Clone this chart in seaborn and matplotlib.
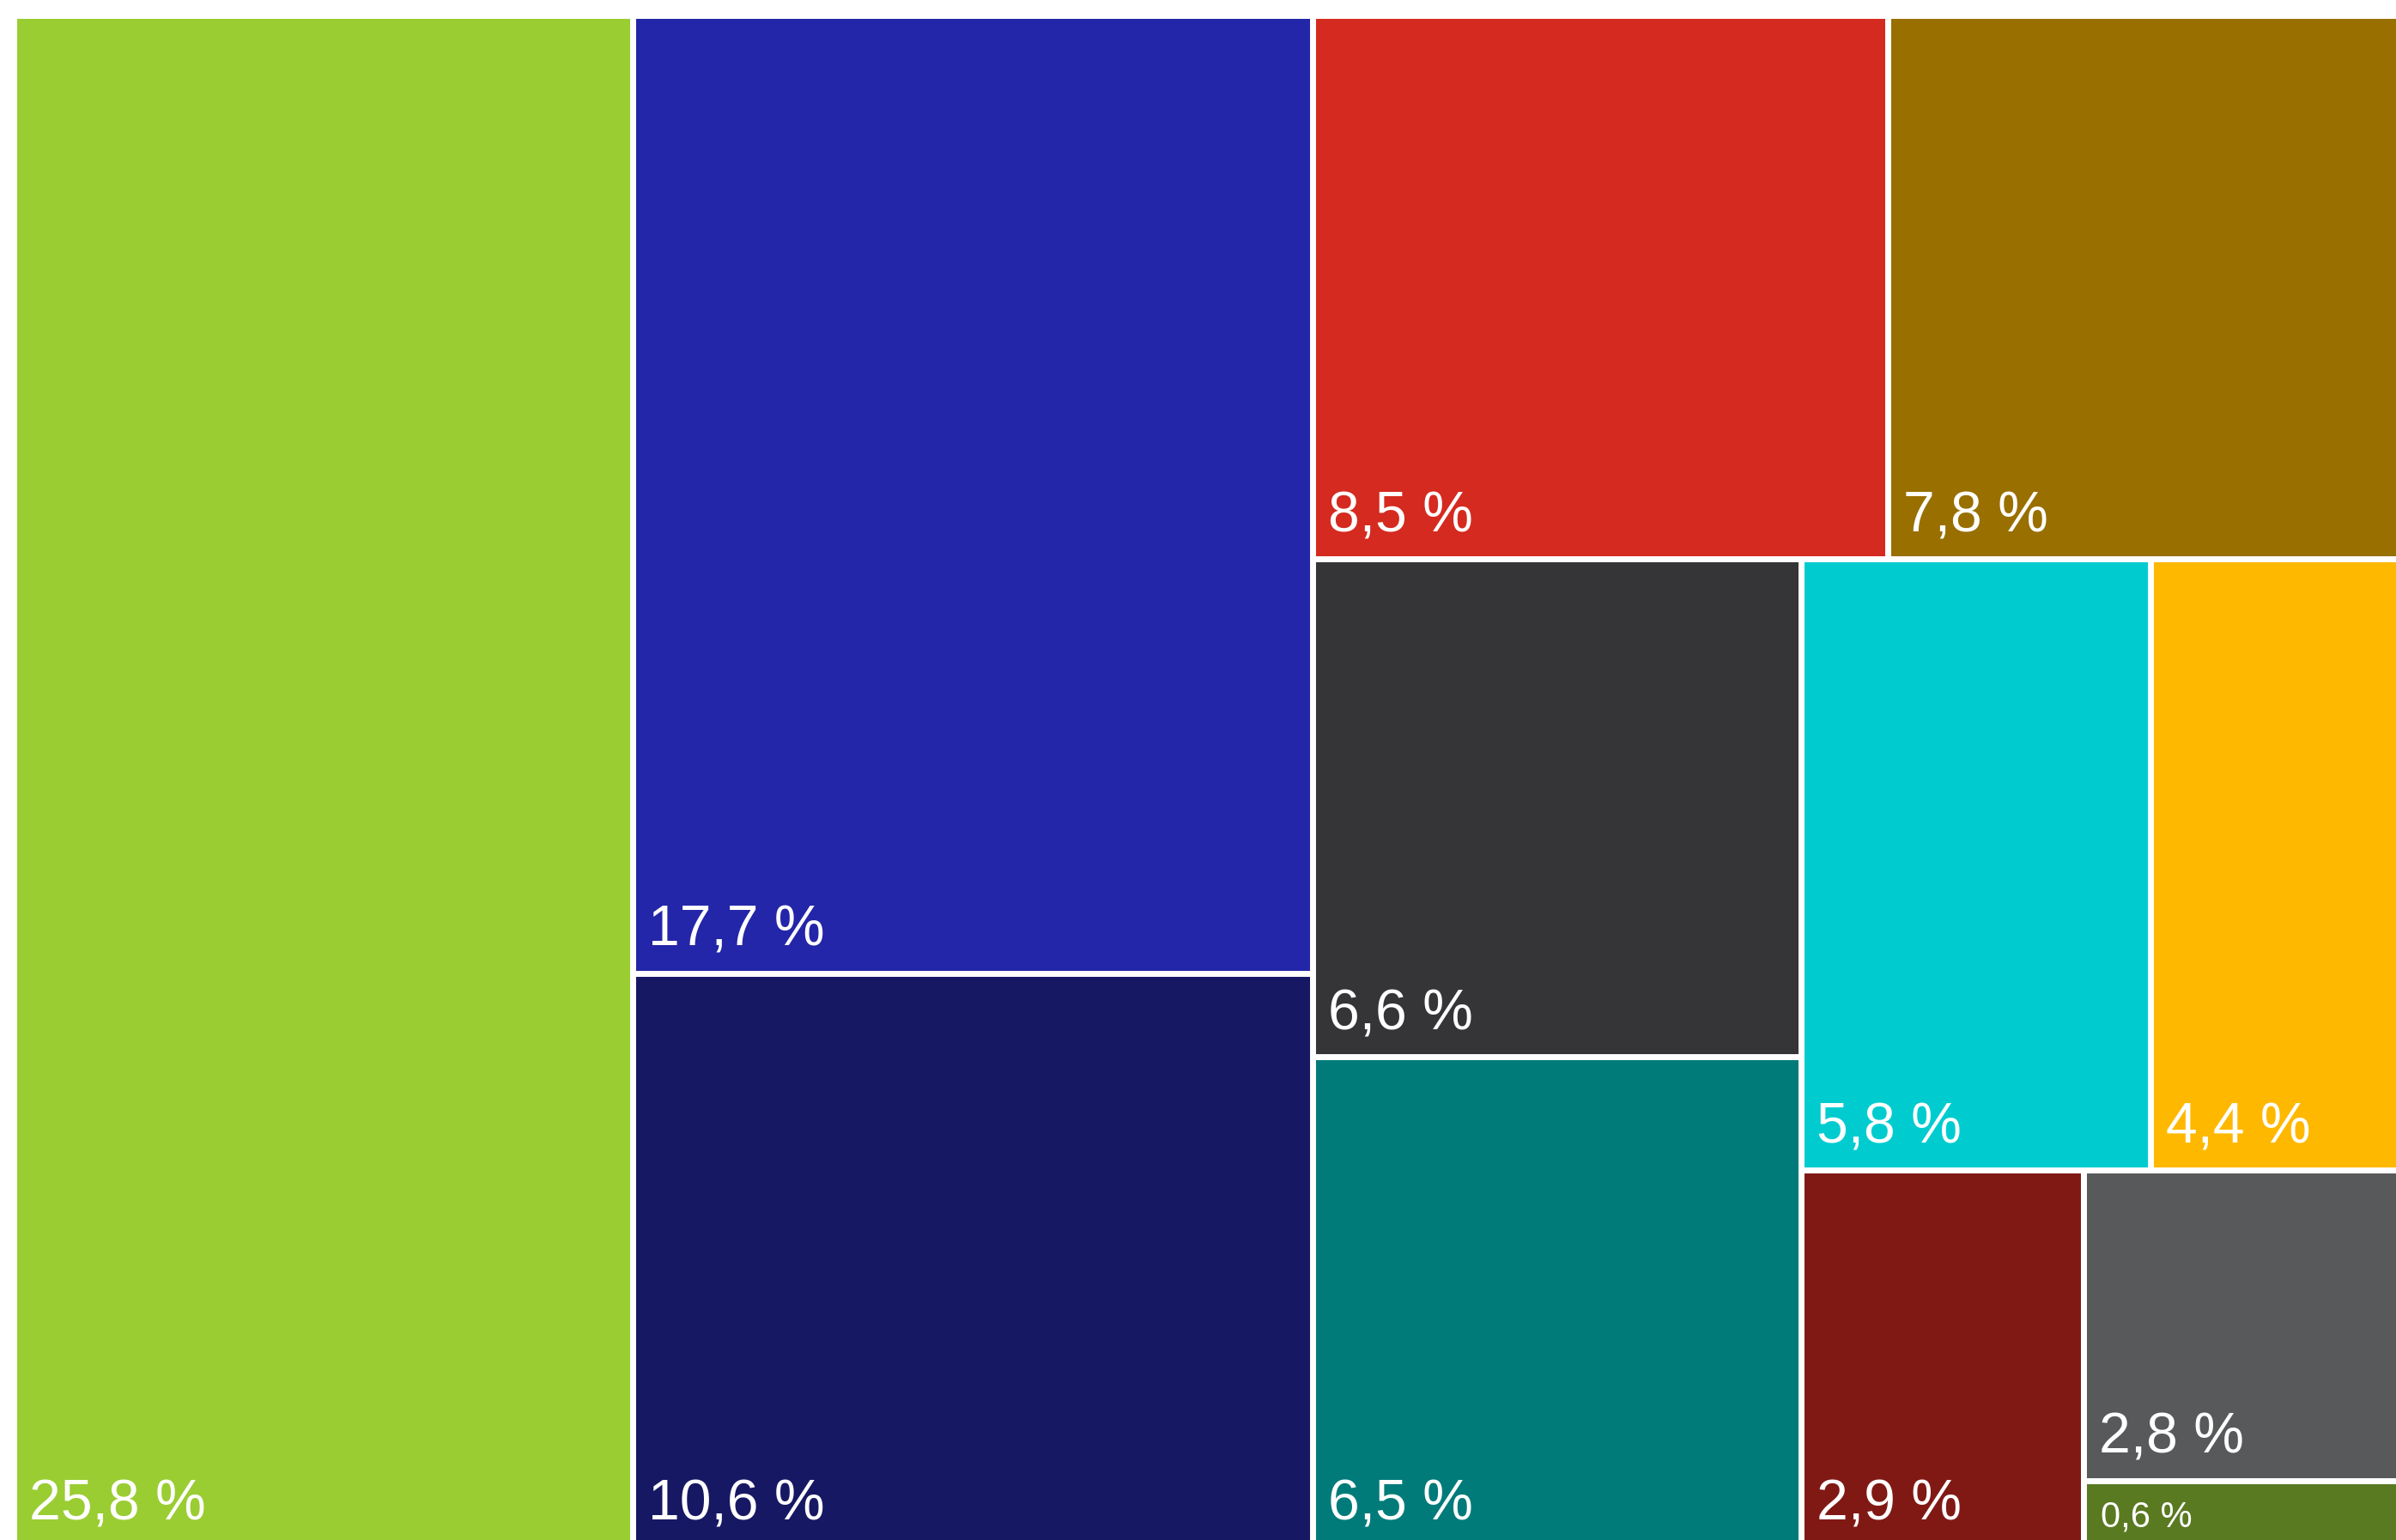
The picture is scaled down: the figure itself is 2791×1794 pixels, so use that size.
import matplotlib
matplotlib.use('Agg')
import matplotlib.pyplot as plt
from matplotlib.patches import Rectangle
import seaborn as sns

# share of each tile (percent)
VALUES = [25.8, 17.7, 10.6, 8.5, 7.8, 6.6, 6.5, 5.8, 4.4, 2.9, 2.8, 0.6]
LABELS = [f"{v:.1f} %".replace('.', ',') for v in VALUES]
COLORS = ['#9ACD32', '#2326A8', '#171863', '#D52A1F', '#996F00', '#353537',
          '#007B7A', '#00CCD0', '#FFB800', '#801914', '#58595B', '#5A7A22']

# slice-and-dice nesting: 'h' splits left->right, 'v' splits top->bottom
TREE = ('h', [0, ('v', [1, 2]),
              ('v', [('h', [3, 4]),
                     ('h', [('v', [5, 6]),
                            ('v', [('h', [7, 8]),
                                   ('h', [9, ('v', [10, 11])])])])])])


def total(node):
    if isinstance(node, int):
        return VALUES[node]
    return sum(total(c) for c in node[1])


def layout(node, x, y, w, h, out):
    # y is the top edge, axis runs downward
    if isinstance(node, int):
        out[node] = (x, y, w, h)
        return
    direction, children = node
    s = total(node)
    pos = 0.0
    for c in children:
        frac = total(c) / s
        if direction == 'h':
            layout(c, x + pos * w, y, w * frac, h, out)
        else:
            layout(c, x, y + pos * h, w, h * frac, out)
        pos += frac


sns.set_theme(style='white')
plt.rcParams['font.family'] = ['Liberation Sans', 'DejaVu Sans']

W, H = 2791, 1794
fig = plt.figure(figsize=(W / 100, H / 100), dpi=100)
# chart box in pixels (it runs past the right and bottom edges)
left, top, right, bottom = 15.5, 17.5, 2813.5, 1802.5
ax = fig.add_axes([left / W, 1 - bottom / H, (right - left) / W, (bottom - top) / H])
ax.set_xlim(0, 1)
ax.set_ylim(1, 0)
ax.axis('off')

rects = {}
layout(TREE, 0, 0, 1, 1, rects)

palette = sns.color_palette(COLORS)
for i, (x, y, w, h) in rects.items():
    ax.add_patch(Rectangle((x, y), w, h, facecolor=palette[i],
                           edgecolor='white', linewidth=5))
    small = VALUES[i] < 1
    ax.annotate(LABELS[i], xy=(x, y + h), xycoords='data',
                xytext=(14 if small else 13, 17 if small else 23),
                textcoords='offset points', color='white',
                fontsize=30 if small else 47.5, ha='left', va='baseline')

fig.savefig('out.png', dpi=100, facecolor='white')
